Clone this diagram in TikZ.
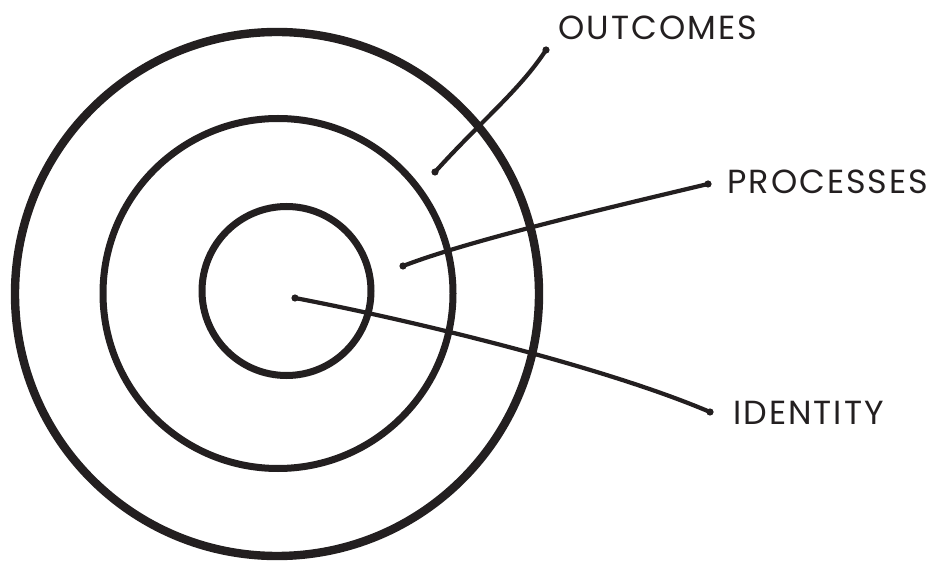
\documentclass[tikz,border=0pt]{standalone}
\usepackage{fontspec}
\setmainfont[LetterSpace=6]{Poppins}
\usepackage{tikz}
\usetikzlibrary{calc, positioning}

\definecolor{ink}{RGB}{35,31,32}

\begin{document}
\begin{tikzpicture}[x=0.5pt, y=-0.5pt,
    ring/.style={draw=ink, line width=4.2pt},
    leader/.style={draw=ink, line width=2.1pt, line cap=round},
    tag/.style={anchor=base west, inner sep=0pt, text=ink, font=\fontsize{16.7}{19}\selectfont}]
    \useasboundingbox (0,0) rectangle (938,561);

    % the three rings
    \draw[ring] (277,294) circle (262);
    \draw[ring, line width=3.5pt] (278,293.5) circle (175);
    \draw[ring, line width=3.5pt] (286.5,291) circle (84.5);

    % labels
    \node[tag] (outcomes) at (558,40) {OUTCOMES};
    \node[tag] (processes) at (727,194) {PROCESSES};
    \node[tag] (identity) at (733,424) {IDENTITY};

    \coordinate (outIn) at (435,172);
    \coordinate (outEnd) at (546,50);
    \coordinate (procIn) at (403,266);
    \coordinate (procEnd) at (708,184);
    \coordinate (idIn) at (295,298);
    \coordinate (idEnd) at (710,412);

    \draw[leader] (outIn) .. controls (480,122) and (520,90) .. (outEnd);
    \draw[leader] (procIn) .. controls (470,240) and (620,205) .. (procEnd);
    \draw[leader] (idIn) .. controls (400,318) and (600,365) .. (idEnd);

    \foreach \p in {outIn, outEnd, procIn, procEnd, idIn, idEnd}
        \fill[ink] (\p) circle (3.6);
\end{tikzpicture}
\end{document}
